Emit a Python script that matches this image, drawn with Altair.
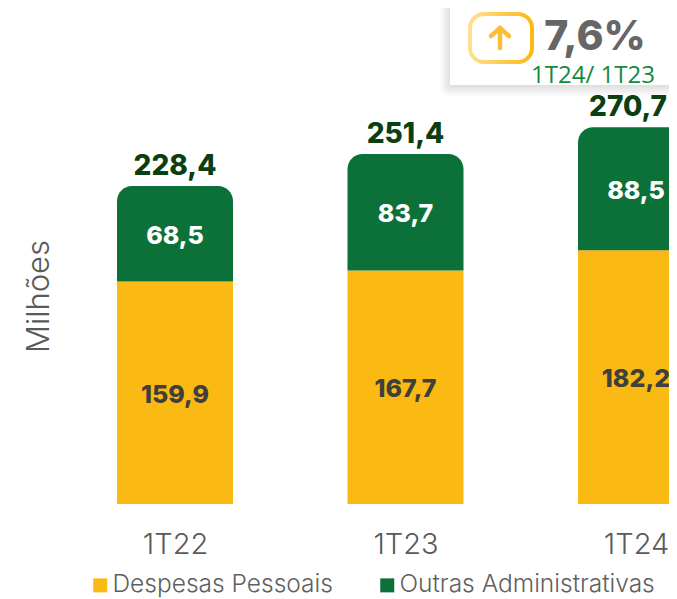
import altair as alt
import pandas as pd

periods = ["1T22", "1T23", "1T24"]
pessoais = [159.9, 167.7, 182.2]
outras = [68.5, 83.7, 88.5]
totais = [228.4, 251.4, 270.7]
series = ["Despesas Pessoais", "Outras Administrativas"]
colors = ["#FBB913", "#0B7138"]
FONT = "Inter"


def br(v):
    return f"{v:.1f}".replace(".", ",")


df = pd.DataFrame({"p": periods, "a": pessoais, "b": outras, "t": totais})
df["top"] = df["a"] + df["b"]
df["mid_a"] = df["a"] / 2
df["mid_b"] = df["a"] + df["b"] / 2
df["la"] = df["a"].map(br)
df["lb"] = df["b"].map(br)
df["lt"] = df["t"].map(br)
df["s_a"] = series[0]
df["s_b"] = series[1]

x = alt.X("p:N", title=None,
          scale=alt.Scale(type="point", domain=periods, range=[167, 628], padding=0),
          axis=alt.Axis(domain=False, ticks=False, labelAngle=0, labelFont=FONT,
                        labelFontSize=29, labelFontWeight=300, labelColor="#5A5A5A",
                        labelPadding=26))
yscale = alt.Scale(domain=[0, 356.3], nice=False)
y = alt.Y("a:Q", title="Milhões", scale=yscale,
          axis=alt.Axis(labels=False, ticks=False, domain=False, grid=False,
                        titleFont=FONT, titleFontSize=31, titleFontWeight=300,
                        titleColor="#5A5A5A", titleX=47, titleY=288, titleAnchor="middle"))
color = alt.Color("s:N", scale=alt.Scale(domain=series, range=colors),
                  legend=alt.Legend(title=None, orient="none", legendX=80, legendY=565,
                                    direction="horizontal", symbolType="square", symbolSize=196,
                                    symbolStrokeWidth=0, labelFont=FONT, labelFontSize=24.5,
                                    labelFontWeight=300, labelColor="#5F5F5F", columnPadding=42,
                                    labelOffset=0, labelLimit=400, symbolOpacity=1))

base = alt.Chart(df)
bar_a = base.transform_calculate(s="datum.s_a").mark_bar(size=116, clip=True).encode(
    x=x, y=y, color=color)
bar_b = base.transform_calculate(s="datum.s_b").mark_bar(
    size=116, clip=True, cornerRadiusTopLeft=15, cornerRadiusTopRight=15).encode(
    x=x, y=alt.Y("top:Q", scale=yscale), y2="a:Q", color=color)

lab = dict(font=FONT, fontWeight=800, fontSize=25, dy=2)
t_a = base.mark_text(color="#403F3C", **lab).encode(
    x=x, y=alt.Y("mid_a:Q", scale=yscale), text="la:N")
t_b = base.mark_text(color="#FFFFFF", **lab).encode(
    x=x, y=alt.Y("mid_b:Q", scale=yscale), text="lb:N")
tot = dict(color="#0A3F12", baseline="bottom", dy=-5, font=FONT, fontWeight=800, fontSize=28)
t_t = base.transform_filter(alt.datum.p != periods[2]).mark_text(**tot).encode(
    x=x, y=alt.Y("t:Q", scale=yscale), text="lt:N")
t_last = base.transform_filter(alt.datum.p == periods[2]).mark_text(dx=-8, **tot).encode(
    x=x, y=alt.Y("t:Q", scale=yscale), text="lt:N")

one = alt.Data(values=[{"k": 1}])


def box(x0, x1, y0, y1, **kw):
    return alt.Chart(one).mark_rect(**kw).encode(
        x=alt.value(x0), x2=alt.value(x1), y=alt.value(y0), y2=alt.value(y1))


def stroke(x0, y0, x1, y1):
    return alt.Chart(one).mark_rule(color="#FBBE3A", strokeWidth=4.5, strokeCap="round").encode(
        x=alt.value(x0), x2=alt.value(x1), y=alt.value(y0), y2=alt.value(y1))


shadow = [box(442 - 10 + i * 1.0, 700, -10, 88 - i * 1.0, fill="#000000", opacity=0.012,
              cornerRadius=6) for i in range(10)]
panel = box(442, 700, -2, 77, fill="#FFFFFF")
icon = box(462, 524, 6, 54, fill="#FFFFFF", strokeWidth=4, cornerRadius=14,
           stroke=alt.Gradient(gradient="linear", x1=0, x2=1, y1=0, y2=0,
                               stops=[alt.GradientStop(offset=0, color="#FFE08F"),
                                      alt.GradientStop(offset=1, color="#FBB913")]))
arrow = [stroke(492, 20, 492, 40), stroke(492, 20, 483, 28), stroke(492, 20, 501, 28)]


def note(text, xp, yp, **kw):
    return alt.Chart(one).transform_calculate(t=f"'{text}'").mark_text(**kw).encode(
        x=alt.value(xp), y=alt.value(yp), text="t:N")


big = note("7,6%", 587, 30, font=FONT, fontWeight=800, fontSize=41, color="#666666")
sub = note("1T24/ 1T23", 585, 68, font="Open Sans", fontSize=24, color="#14893F")

chart = alt.layer(bar_a, bar_b, t_a, t_b, t_t, t_last, *shadow, panel, icon, *arrow, big, sub).properties(
    width=661, height=496,
    padding={"left": 0, "top": 0, "right": 0, "bottom": 95},
    autosize=alt.AutoSizeParams(type="none"),
    background="#FFFFFF",
).configure_view(stroke=None).configure_axis(grid=False)

chart.save("out.html", embed_options={"renderer": "svg", "actions": False})
